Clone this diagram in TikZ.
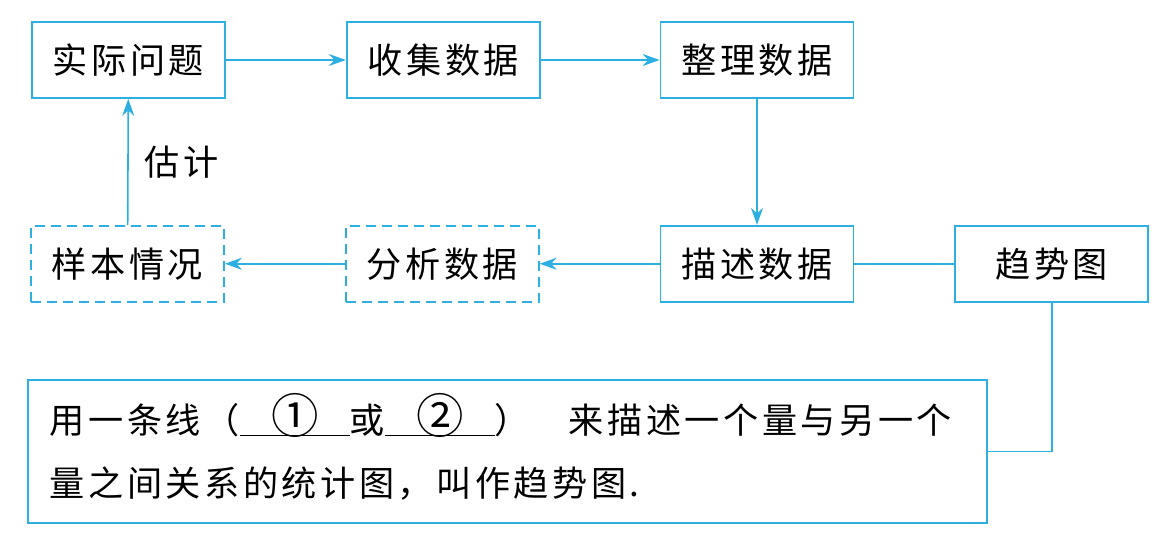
\documentclass[tikz,border=0pt]{standalone}
\usepackage{fontspec}
\usetikzlibrary{arrows.meta, positioning}
\newfontfamily\cjk[LetterSpace=10]{Noto Sans CJK SC}
\definecolor{flowblue}{RGB}{45,175,225}
\newcommand{\blankno}[1]{\underline{\makebox[2.2cm]{\smash{\fontsize{27}{24}\selectfont #1}}}}
\tikzset{
    cjktext/.style={font=\cjk\fontsize{20}{24}\selectfont},
    stepbox/.style={draw=flowblue, line width=1pt, minimum width=3.86cm,
        minimum height=1.52cm, cjktext},
    guessbox/.style={stepbox, dash pattern=on 0.2cm off 0.12cm}, % Dashed boxes
    flow/.style={draw=flowblue, line width=0.9pt,
        -{Stealth[length=0.34cm, width=0.24cm]}},
    link/.style={draw=flowblue, line width=0.9pt},
}

\begin{document}
\begin{tikzpicture}
        \useasboundingbox (0, 0) rectangle (23.44, -10.74);

        \node[stepbox] (problem) at (2.57, -1.2) {实际问题}; % Top row
        \node[stepbox, right=2.4cm of problem] (collect) {收集数据};
        \node[stepbox, right=2.38cm of collect] (sort) {整理数据};

        \node[stepbox, below=2.52cm of sort] (describe) {描述数据}; % Bottom row
        \node[guessbox, left=2.4cm of describe] (analyse) {分析数据};
        \node[guessbox, left=2.4cm of analyse] (sample) {样本情况};
        \node[stepbox, right=2cm of describe] (trend) {趋势图};

        \node[draw=flowblue, line width=1pt, minimum width=19.18cm,
            minimum height=2.86cm, text width=18.3cm, inner xsep=0.44cm,
            align=left, font=\cjk\fontsize{20}{36}\selectfont] (define)
            at (10.15, -9.03) {用一条线（\blankno{①}或\blankno{②}）%
            \hspace{1.1em}来描述一个量与另一个\\
            量之间关系的统计图，叫作趋势图.};

        \draw[flow] (problem) -- (collect);
        \draw[flow] (collect) -- (sort);
        \draw[flow] (sort) -- (describe);
        \draw[flow] (describe) -- (analyse);
        \draw[flow] (analyse) -- (sample);
        \draw[flow] (sample) -- node[right=0.2cm, cjktext] {估计} (problem);

        \draw[link] (describe) -- (trend);
        \draw[link] (trend.south) |- (define.east); % Elbow to the text box
    \end{tikzpicture}
\end{document}
